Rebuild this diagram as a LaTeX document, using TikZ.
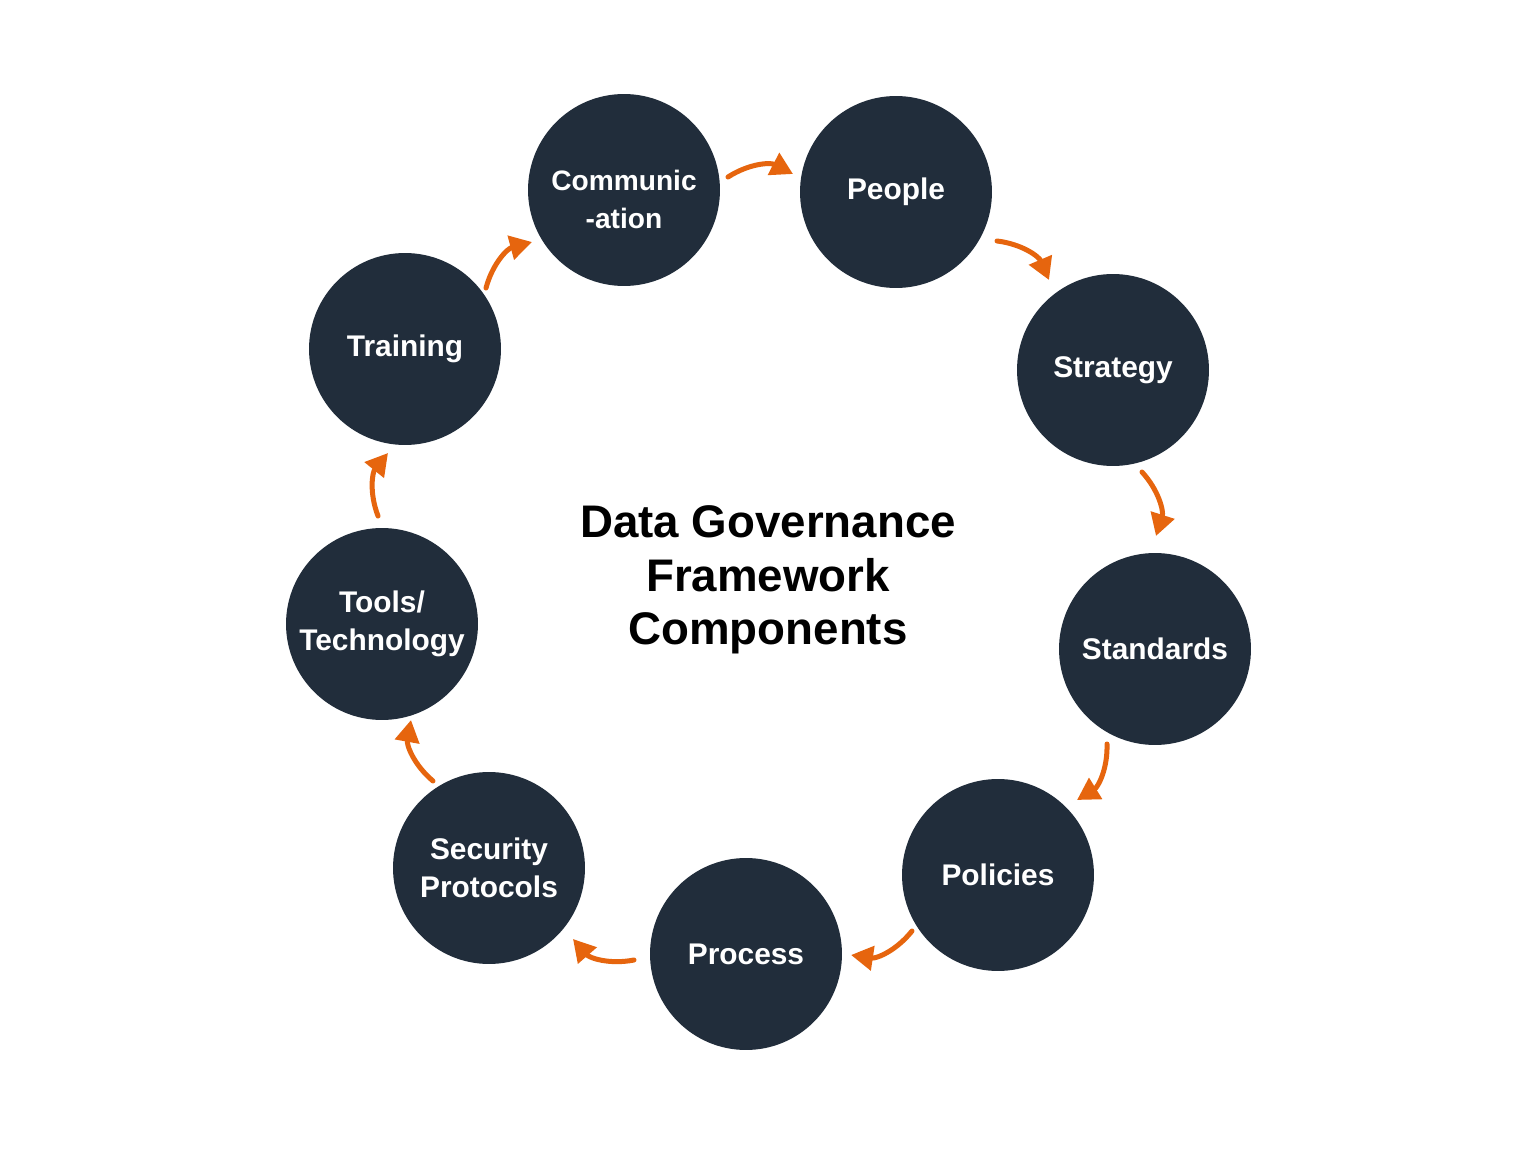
\documentclass[tikz,border=0pt]{standalone}
\usepackage{fontspec}
\setmainfont{Liberation Sans}
\usetikzlibrary{arrows.meta}
\definecolor{navy}{RGB}{33,45,59}
\definecolor{accent}{RGB}{230,101,14}
\tikzset{
  comp/.style={circle, fill=navy, minimum size=3.84cm, inner sep=0pt, text=white,
    font=\fontsize{17}{21.6}\selectfont\bfseries, align=center},
  arr/.style={draw=accent, line width=0.1cm, line cap=round,
    -{Triangle[length=0.44cm,width=0.48cm]}, bend left=30},
}
\begin{document}
\begin{tikzpicture}[x=0.02cm,y=-0.02cm]
\useasboundingbox[fill=white] (0,0) rectangle (1536,1152);
\node[comp] (comm) at (624,190) {};
\node[text=white, align=center, font=\fontsize{16}{21.6}\selectfont\bfseries] (commtext) at (624,199) {Communic\\-ation};
\node[comp] (people) at (896,192) {People};
\node[comp] (strategy) at (1113,370) {Strategy};
\node[comp] (standards) at (1155,649) {Standards};
\node[comp] (policies) at (998,875) {Policies};
\node[comp] (process) at (746,954) {Process};
\node[comp] (security) at (489,868) {Security\\Protocols};
\node[comp] (tools) at (382,624) {Tools/\\Technology};
\node[comp] (training) at (405,349) {Training};
\node[font=\fontsize{26}{30.5}\selectfont\bfseries, align=center] (title) at (768,580)
  {Data Governance\\Framework\\Components};
\coordinate (s1) at (728,177); \coordinate (t1) at (793,174);
\coordinate (s2) at (997,241); \coordinate (t2) at (1049,280);
\coordinate (s3) at (1142,472); \coordinate (t3) at (1156,536);
\coordinate (s4) at (1107,744); \coordinate (t4) at (1077,800);
\coordinate (s5) at (912,931); \coordinate (t5) at (851,955);
\coordinate (s6) at (634,960); \coordinate (t6) at (573,939);
\coordinate (s7) at (433,781); \coordinate (t7) at (411,720);
\coordinate (s8) at (378,516); \coordinate (t8) at (388,453);
\coordinate (s9) at (486,288); \coordinate (t9) at (532,242);
\foreach \i in {1,...,9} { \draw[arr] (s\i) to (t\i); }
\end{tikzpicture}
\end{document}
